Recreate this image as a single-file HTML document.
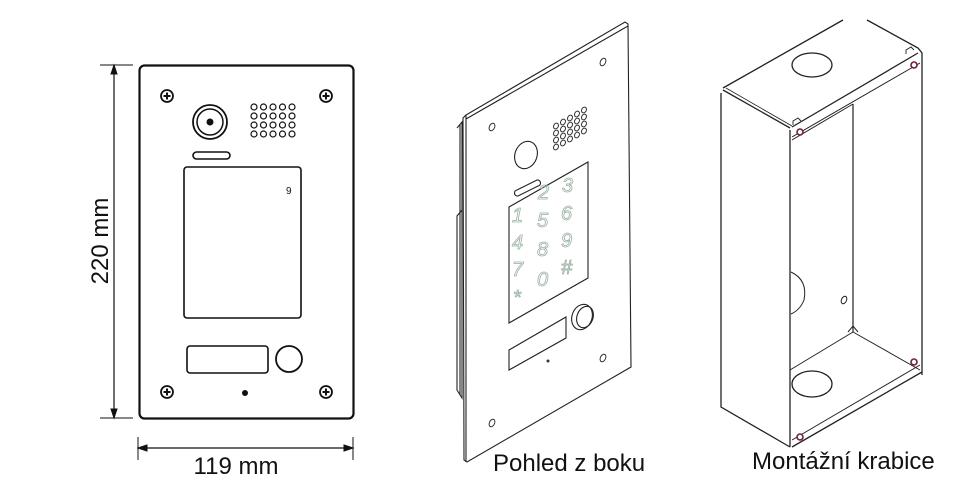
<!DOCTYPE html>
<html><head><meta charset="utf-8"><style>
html,body{margin:0;padding:0;background:#fff}
svg{display:block}
text{font-family:"Liberation Sans",sans-serif;fill:#111}
</style></head><body>
<svg width="969" height="497" viewBox="0 0 969 497" xmlns="http://www.w3.org/2000/svg">
<defs>
<g id="scr"><circle r="6" fill="#fff" stroke="#111" stroke-width="1.8"/><line x1="-3.5" y1="0" x2="3.5" y2="0" stroke="#111" stroke-width="2"/><line x1="0" y1="-3.5" x2="0" y2="3.5" stroke="#111" stroke-width="2"/></g>
<g id="hole"><ellipse rx="2.6" ry="4" transform="rotate(25)" fill="#fff" stroke="#333" stroke-width="1"/></g>
</defs>
<g fill="none" stroke="#111">
<line x1="100" y1="65" x2="133" y2="65" stroke-width="1"/>
<line x1="100" y1="418" x2="133" y2="418" stroke-width="1"/>
<line x1="114" y1="67" x2="114" y2="416" stroke-width="1.2"/>
<path d="M114 65 l-3 9 h6z M114 418 l-3 -9 h6z" fill="#111"/>
<line x1="138" y1="437" x2="138" y2="460" stroke-width="1"/>
<line x1="353" y1="437" x2="353" y2="460" stroke-width="1"/>
<line x1="140" y1="448" x2="351" y2="448" stroke-width="1.2"/>
<path d="M138 448 l9 -3 v6z M353 448 l-9 -3 v6z" fill="#111"/>
<rect x="139.5" y="65.5" width="214" height="353" rx="5" stroke-width="2.2"/>
<circle cx="210" cy="122" r="17" stroke-width="1.8"/>
<circle cx="210" cy="122" r="13" stroke-width="1.5"/>
<circle cx="210" cy="122" r="3" fill="#111"/>
<rect x="193" y="152" width="37" height="7" rx="3.5" stroke-width="1.6"/>
<rect x="184" y="167" width="117" height="151" rx="3" stroke-width="1.6"/>
<rect x="187" y="346" width="81" height="27" rx="3" stroke-width="1.6"/>
<circle cx="289" cy="359" r="13" stroke-width="1.8"/>
</g>
<circle cx="245" cy="393" r="3" fill="#111"/>
<text x="286" y="194" font-size="10" fill="#333">9</text>
<g fill="none" stroke="#111" stroke-width="1.2">
<circle cx="254" cy="107" r="3"/><circle cx="263.5" cy="107" r="3"/><circle cx="273" cy="107" r="3"/><circle cx="282.5" cy="107" r="3"/><circle cx="292" cy="107" r="3"/>
<circle cx="254" cy="116" r="3"/><circle cx="263.5" cy="116" r="3"/><circle cx="273" cy="116" r="3"/><circle cx="282.5" cy="116" r="3"/><circle cx="292" cy="116" r="3"/>
<circle cx="254" cy="125" r="3"/><circle cx="263.5" cy="125" r="3"/><circle cx="273" cy="125" r="3"/><circle cx="282.5" cy="125" r="3"/><circle cx="292" cy="125" r="3"/>
<circle cx="254" cy="134" r="3"/><circle cx="263.5" cy="134" r="3"/><circle cx="273" cy="134" r="3"/><circle cx="282.5" cy="134" r="3"/><circle cx="292" cy="134" r="3"/>
</g>
<use href="#scr" x="167" y="96"/><use href="#scr" x="326" y="96"/><use href="#scr" x="167" y="392"/><use href="#scr" x="326" y="392"/>
<text x="100" y="241" font-size="24" text-anchor="middle" transform="rotate(-90 100 241)" dy="8">220 mm</text>
<text x="236" y="474" font-size="24" text-anchor="middle">119 mm</text>

<g fill="none" stroke="#222" stroke-width="1.1">
<path d="M457 128 L462 122 L462 210 L457 216 L457 390 L462 398 L462 130"/>
<line x1="460" y1="125" x2="460" y2="395"/>
<path d="M466 115 L625 22 L628 24 L631 367 L467 462 L464 460 L463 118 Z" fill="#fff"/>
<line x1="466" y1="119" x2="628" y2="26"/>
<line x1="466" y1="115" x2="466" y2="462"/>
<ellipse cx="526" cy="155" rx="11" ry="14" transform="rotate(20 526 155)"/>
<path d="M517 190 L537 180 A3 3 0 0 1 538 186 L518 196 A3 3 0 0 1 517 190Z"/>
<path d="M509 207 L588 162 L588 278 L509 323 Z"/>
<path d="M509 350 L566 317 L566 338 L509 370 Z"/>
<ellipse cx="582" cy="317" rx="10" ry="13" transform="rotate(20 582 317)"/>
<ellipse cx="585" cy="317" rx="8" ry="11" transform="rotate(20 585 317)"/>
</g>
<circle cx="548" cy="361" r="1.5" fill="#333"/>
<use href="#hole" x="492" y="127"/><use href="#hole" x="603" y="62"/><use href="#hole" x="603" y="358"/><use href="#hole" x="492" y="423"/>
<g fill="none" stroke="#333" stroke-width="1">
<g id="sp"><ellipse cx="556" cy="147" rx="2.3" ry="3" transform="rotate(30 556 147)"/><ellipse cx="563" cy="143" rx="2.3" ry="3" transform="rotate(30 563 143)"/><ellipse cx="570" cy="139" rx="2.3" ry="3" transform="rotate(30 570 139)"/><ellipse cx="577" cy="135" rx="2.3" ry="3" transform="rotate(30 577 135)"/><ellipse cx="584" cy="131" rx="2.3" ry="3" transform="rotate(30 584 131)"/></g>
<use href="#sp" y="-7"/><use href="#sp" y="-14"/><use href="#sp" y="-21"/>
</g>
<g font-size="20" stroke="#9ab0a0" stroke-width="0.8" font-style="italic">
<text x="538" y="199" style="fill:none">2</text><text x="562" y="192" style="fill:none">3</text>
<text x="512" y="222" style="fill:none">1</text><text x="537" y="227" style="fill:none">5</text><text x="561" y="220" style="fill:none">6</text>
<text x="512" y="249" style="fill:none">4</text><text x="537" y="256" style="fill:none">8</text><text x="561" y="247" style="fill:none">9</text>
<text x="512" y="276" style="fill:none">7</text><text x="537" y="286" style="fill:none">0</text><text x="561" y="274" style="fill:none">#</text>
<text x="513" y="304" style="fill:none">*</text>
</g>
<text x="493" y="471" font-size="24">Pohled z boku</text>

<g fill="none" stroke="#222" stroke-width="1.3">
<path d="M723 88 L843 20 M867 20 L918 48 L922 53 L922 375"/>
<path d="M721 93 L721 407 L790 447"/>
<line x1="723" y1="90" x2="790" y2="128"/>
<line x1="726" y1="88" x2="792" y2="126" stroke-width="0.8"/>
<line x1="790" y1="130" x2="790" y2="447"/>
<line x1="792" y1="127" x2="918" y2="53"/>
<line x1="792" y1="137" x2="920" y2="63" stroke-width="1"/>
<line x1="792" y1="140" x2="853" y2="104" stroke-width="1"/>
<line x1="853" y1="104" x2="853" y2="332" stroke-width="1.2"/>
<line x1="853" y1="332" x2="790" y2="370" stroke-width="1"/>
<line x1="853" y1="332" x2="920" y2="370" stroke-width="1"/>
<path d="M848 332 L853 326 L858 332" stroke-width="1"/>
<line x1="792" y1="440" x2="920" y2="365" stroke-width="1"/>
<line x1="792" y1="447" x2="922" y2="372"/>
<ellipse cx="812" cy="65" rx="20" ry="12"/>
<ellipse cx="812" cy="384" rx="20" ry="13"/>
<path d="M791 272 Q808 280 804 300 Q800 310 791 314" stroke-width="1"/>
<ellipse cx="844" cy="300" rx="2.5" ry="4" transform="rotate(25 844 300)" stroke-width="1"/>
<path d="M793 125 l0 -4 l5 -3 l3 3" stroke-width="0.9"/>
<path d="M906 54 l0 -4 l5 -3 l3 3" stroke-width="0.9"/>
</g>
<g fill="#fff" stroke="#702030" stroke-width="1.6">
<circle cx="800" cy="132" r="3"/><circle cx="914" cy="65" r="3"/><circle cx="914" cy="362" r="3"/><circle cx="800" cy="437" r="3"/>
</g>
<text x="752" y="469" font-size="24">Montážní krabice</text>
</svg>
</body></html>
